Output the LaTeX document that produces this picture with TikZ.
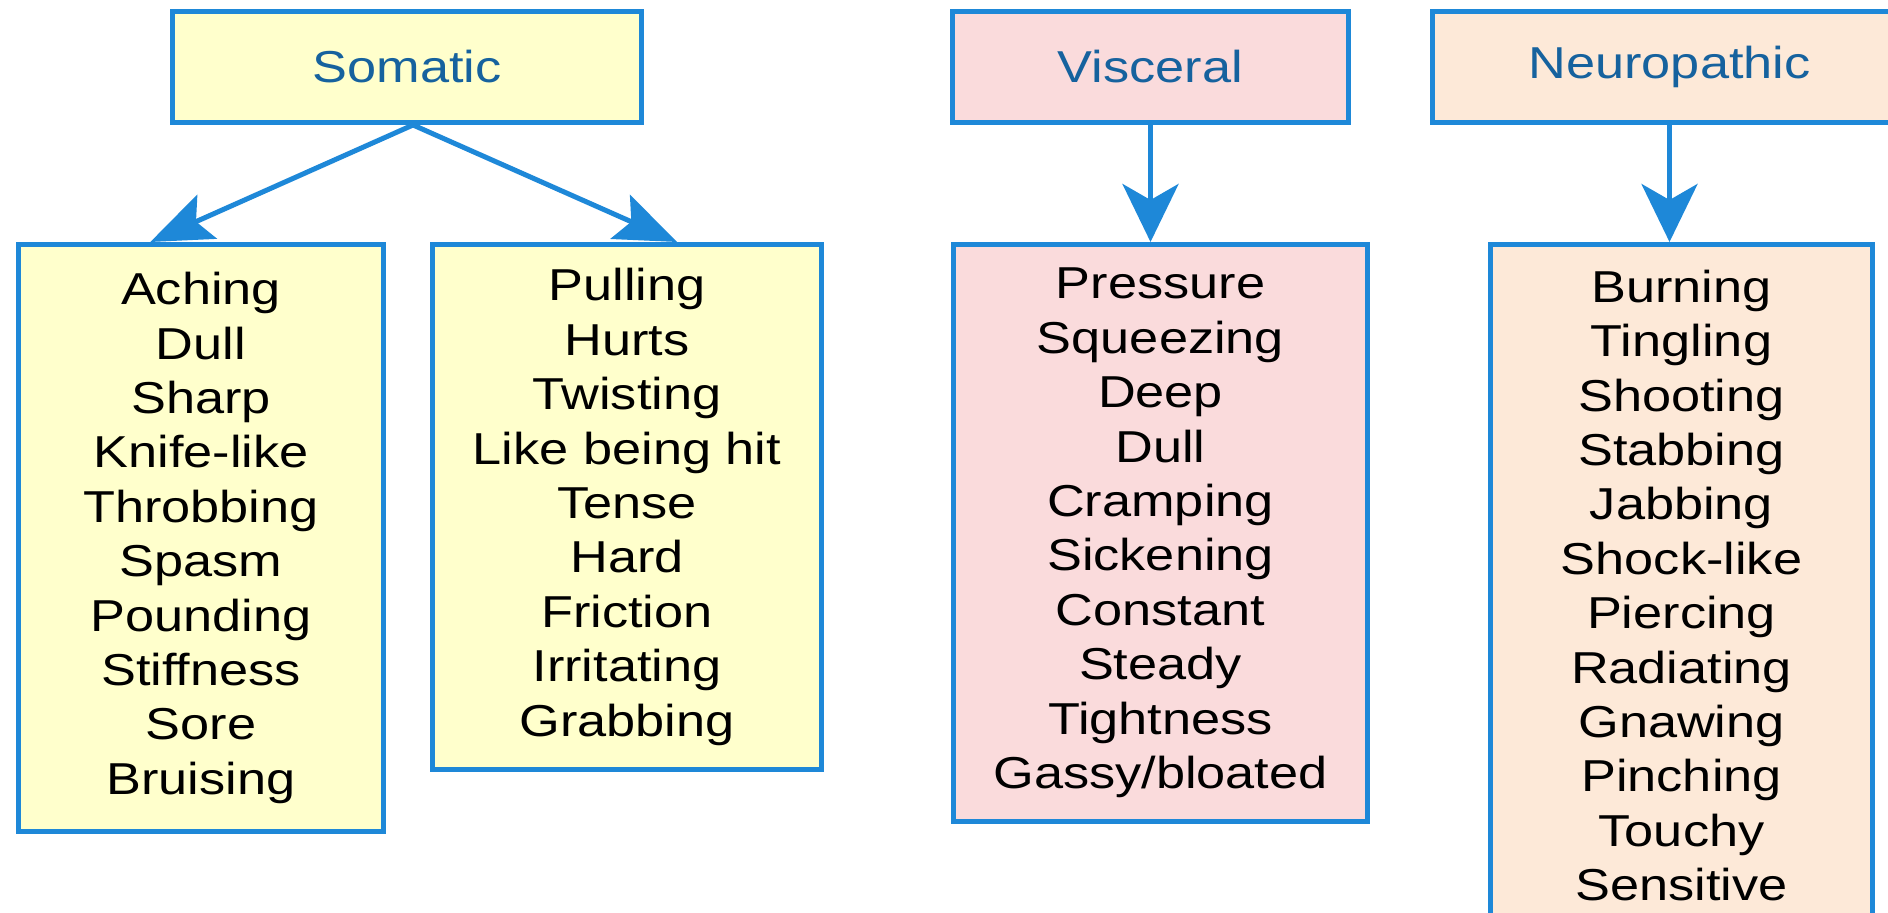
\documentclass[tikz,border=0pt]{standalone}
\usepackage{fontspec}
\setmainfont{Liberation Sans}[FakeStretch=1.17]
\definecolor{painblue}{RGB}{30,136,216}
\definecolor{painhead}{RGB}{22,98,158}
\definecolor{somaticfill}{RGB}{255,255,204}
\definecolor{visceralfill}{RGB}{250,219,220}
\definecolor{neurofill}{RGB}{253,233,216}
\usetikzlibrary{calc}
\usetikzlibrary{positioning}
\usetikzlibrary{arrows.meta}
\tikzset{
  painbox/.style={draw=painblue, line width=2.5pt, rectangle, anchor=north west, inner sep=0pt, align=center, font=\fontsize{22.35}{27.2}\selectfont},
  painarrow/.style={draw=painblue, line width=2.5pt, -{Stealth[length=29pt,width=28pt,inset=8pt]}},
  slantarrow/.style={painarrow, -{Stealth[length=31pt,width=24pt,inset=6pt]}}
}

\begin{document}
\begin{tikzpicture}[x=0.5pt,y=-0.5pt]
  \useasboundingbox (0,0) rectangle (1888,913);

  % pain types
  \begin{scope}[every node/.style={painbox, text=painhead, minimum height=55.5pt}]
    \node [fill=somaticfill, minimum width=234.5pt] (somatic) at (170,9) {Somatic};
    \node [fill=visceralfill, minimum width=198pt] (visceral) at (950,9) {Visceral};
    \node [fill=neurofill, minimum width=237pt] (neuro) at (1430,9) {Neuropathic};
  \end{scope}

  % descriptors
  \begin{scope}[every node/.style={painbox, text=black}]
    \node [fill=somaticfill, minimum width=182.5pt, minimum height=293.5pt] (aching) at (16,242)
      {Aching\\Dull\\Sharp\\Knife-like\\Throbbing\\Spasm\\Pounding\\Stiffness\\Sore\\Bruising};
    \node [fill=somaticfill, minimum width=194.5pt, minimum height=262.5pt] (pulling) at (430,242)
      {Pulling\\Hurts\\Twisting\\Like being hit\\Tense\\Hard\\Friction\\Irritating\\Grabbing};
    \node [fill=visceralfill, minimum width=207pt, minimum height=288.5pt] (pressure) at (951,242)
      {Pressure\\Squeezing\\Deep\\Dull\\Cramping\\Sickening\\Constant\\Steady\\Tightness\\Gassy/bloated};
    \node [fill=neurofill, minimum width=191pt, minimum height=341pt] (burning) at (1488,242)
      {Burning\\Tingling\\Shooting\\Stabbing\\Jabbing\\Shock-like\\Piercing\\Radiating\\Gnawing\\Pinching\\Touchy\\Sensitive};
  \end{scope}

  \coordinate (somaticfoot) at ($(somatic.south)+(6,0)$);
  \coordinate (achingtip) at ($(aching.north west)!0.363!(aching.north east)$);
  \coordinate (pullingtip) at ($(pulling.north west)!0.627!(pulling.north east)$);

  \draw [slantarrow] (somaticfoot) -- (achingtip);
  \draw [slantarrow] (somaticfoot) -- (pullingtip);
  \draw [painarrow] (visceral.south) -- (visceral.south |- pressure.north);
  \draw [painarrow] (neuro.south) -- (neuro.south |- burning.north);
\end{tikzpicture}
\end{document}
